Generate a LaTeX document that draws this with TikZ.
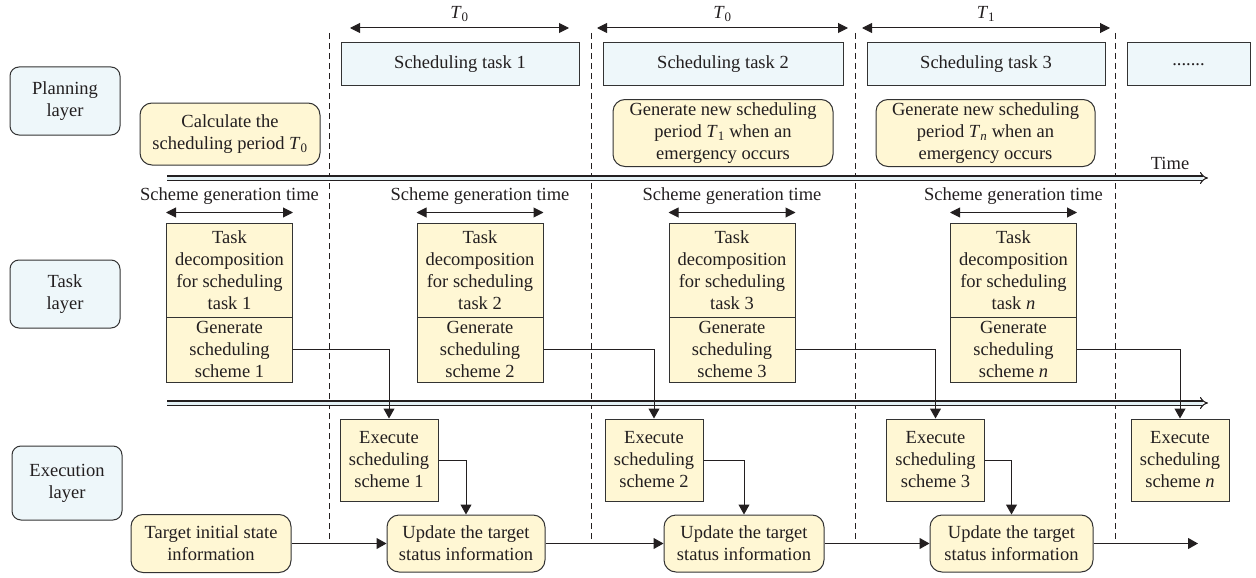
\documentclass[tikz,border=0pt]{standalone}
\usepackage{fontspec}
\setmainfont{Liberation Serif}
\usetikzlibrary{arrows.meta}
\definecolor{ink}{HTML}{231F20}
\definecolor{boxline}{HTML}{333333}
\definecolor{paleblue}{HTML}{EEF7FA}
\definecolor{paleyellow}{HTML}{FFF7D4}
\definecolor{railblue}{HTML}{E4F1F5}
\newcommand{\per}[1]{\textit{T}\textsubscript{#1}}

\begin{document}
\begin{tikzpicture}[x=1pt,y=-1pt,
  every node/.style={font=\fontsize{18.5}{22}\selectfont, text=ink, align=center, inner sep=0pt},
  layerbox/.style={draw=boxline, line width=1pt, fill=paleblue, rounded corners=9pt, minimum width=110pt},
  taskbar/.style={draw=boxline, line width=1pt, fill=paleblue, minimum height=43pt},
  note/.style={draw=boxline, line width=1pt, fill=paleyellow, rounded corners=12pt},
  stepcell/.style={draw=boxline, line width=1pt, fill=paleyellow},
  flow/.style={draw=ink, line width=1pt, -{Triangle[length=10pt,width=11pt]}},
  span/.style={draw=ink, line width=1pt, {Triangle[length=10pt,width=10pt]}-{Triangle[length=10pt,width=10pt]}},
  rail/.style={draw=ink, line width=1.1pt, double=railblue, double distance=3pt, -{Implies[length=6pt,width=14pt]}},
  divider/.style={draw=ink, line width=0.9pt, dash pattern=on 6pt off 4pt}
]
\useasboundingbox (0,0) rectangle (1256,578);

% period dividers
\foreach \x/\n in {329/a,591/b,855/c,1115/d}{
  \coordinate (top\n) at (\x,33);
  \coordinate (bot\n) at (\x,543.5);
  \draw[divider] (top\n) -- (bot\n);
}

% time rails
\coordinate (railAs) at (167,178);
\coordinate (railAe) at (1208,178);
\coordinate (railBs) at (167,403);
\coordinate (railBe) at (1208,403);
\draw[rail] (railAs) -- (railAe);
\draw[rail] (railBs) -- (railBe);
\node (timelbl) at (1170,163) {Time};

% period spans
\coordinate (p1s) at (350,28);  \coordinate (p1e) at (569,28);
\coordinate (p2s) at (597,28);  \coordinate (p2e) at (848,28);
\coordinate (p3s) at (862,28);  \coordinate (p3e) at (1110,28);
\draw[span] (p1s) -- node[above=6pt] (lp1) {\per{0}} (p1e);
\draw[span] (p2s) -- node[above=6pt] (lp2) {\per{0}} (p2e);
\draw[span] (p3s) -- node[above=6pt] (lp3) {\per{1}} (p3e);

% layer labels
\node[layerbox, minimum height=68pt] (plan) at (65,101) {Planning\\layer};
\node[layerbox, minimum height=68pt] (tasklay) at (65,294) {Task\\layer};
\node[layerbox, minimum height=74pt] (execlay) at (67,483) {Execution\\layer};

% planning layer
\node[note, minimum width=180pt, minimum height=62pt] (calc) at (230,134)
  {Calculate the\\scheduling period \per{0}};
\node[taskbar, minimum width=238pt] (st1) at (460,64.5) {Scheduling task 1};
\node[taskbar, minimum width=240pt] (st2) at (723,64.5) {Scheduling task 2};
\node[taskbar, minimum width=238pt] (st3) at (986,64.5) {Scheduling task 3};
\node[taskbar, minimum width=123pt] (st4) at (1188.5,64.5) {.......};
\node[note, minimum width=220pt, minimum height=67pt] (gn2) at (723,133)
  {Generate new scheduling\\period \per{1} when an\\emergency occurs};
\node[note, minimum width=219pt, minimum height=67pt] (gn3) at (985.5,133)
  {Generate new scheduling\\period \per{\textit{n}} when an\\emergency occurs};

% task layer
\foreach \x/\k/\lab in {229.5/1/1, 480/2/2, 732/3/3, 1013.5/4/\textit{n}}{
  \node[stepcell, minimum width=126pt, minimum height=94pt] (td\k) at (\x,270)
    {Task\\decomposition\\for scheduling\\task \lab};
  \node[stepcell, minimum width=126pt, minimum height=65pt] (gs\k) at (\x,349.5)
    {Generate\\scheduling\\scheme \lab};
  \draw[span] ([yshift=10pt]td\k.north west) -- ([yshift=10pt]td\k.north east);
  \node (sg\k) at (\x,196) {Scheme generation time};
}

% execution layer
\foreach \x/\k/\lab in {389/1/1, 654/2/2, 935.5/3/3, 1180/4/\textit{n}}{
  \node[stepcell, minimum width=98pt, minimum height=82pt] (ex\k) at (\x,460)
    {Execute\\scheduling\\scheme \lab};
  \draw[flow] (gs\k.east) -| (ex\k.north);
}
\node[note, minimum width=160pt, minimum height=58pt] (init) at (211,543.5)
  {Target initial state\\information};
\node[note, minimum width=158pt, minimum height=57pt] (up1) at (466,543.5)
  {Update the target\\status information};
\node[note, minimum width=160pt, minimum height=57pt] (up2) at (744,543.5)
  {Update the target\\status information};
\node[note, minimum width=163pt, minimum height=57pt] (up3) at (1011.5,543.5)
  {Update the target\\status information};
\coordinate (outend) at (1198,543.5);

\draw[flow] (ex1.east) -| (up1.north);
\draw[flow] (ex2.east) -| (up2.north);
\draw[flow] (ex3.east) -| (up3.north);
\draw[flow] (init.east) -- (up1.west);
\draw[flow] (up1.east) -- (up2.west);
\draw[flow] (up2.east) -- (up3.west);
\draw[flow] (up3.east) -- (outend);
\end{tikzpicture}
\end{document}
